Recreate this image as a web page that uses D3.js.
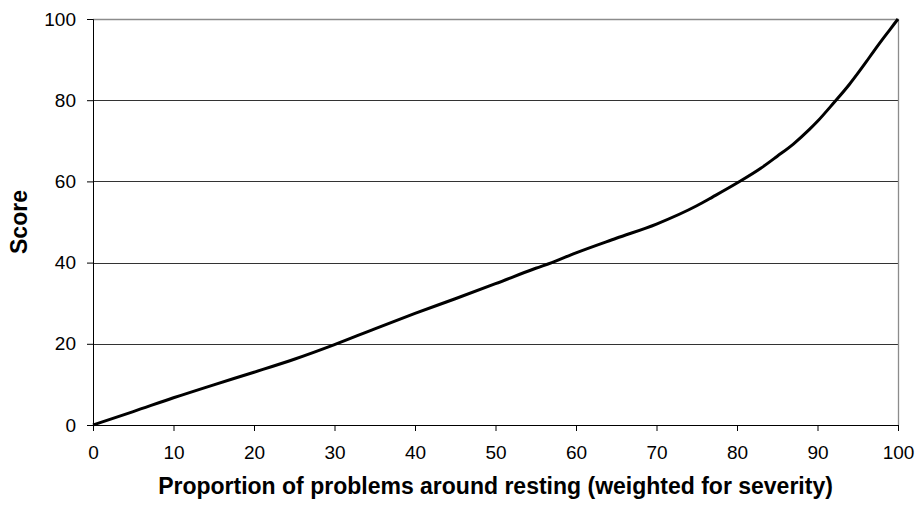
<!DOCTYPE html>
<html>
<head>
<meta charset="utf-8">
<script src="https://cdn.jsdelivr.net/npm/d3@7"></script>
<style>
    body { margin: 0; background: #fff; }
    text { font-family: "Liberation Sans", Arial, sans-serif; }
</style>
</head>
<body>
<svg></svg>
<script>
// values
const proportion = [0, 5, 10, 15, 20, 25, 30, 35, 40, 45, 50, 55, 57, 60, 65, 70, 75, 77, 80, 83, 85, 87, 89, 90, 92, 94, 95, 96, 97, 98, 99, 100];
const score = [0, 3.3, 6.7, 9.9, 13.0, 16.2, 19.8, 23.7, 27.5, 31.1, 34.8, 38.6, 40.0, 42.4, 46.0, 49.5, 54.0, 56.2, 59.6, 63.3, 66.2, 69.2, 72.8, 74.8, 79.3, 84.0, 86.6, 89.3, 92.1, 94.8, 97.4, 100];
const xTicks = [0, 10, 20, 30, 40, 50, 60, 70, 80, 90, 100];
const yTicks = [0, 20, 40, 60, 80, 100];
const xTitle = 'Proportion of problems around resting (weighted for severity)';
const yTitle = 'Score';

const width = 917, height = 507;
const margin = { top: 19, right: 19, bottom: 82, left: 93 };

const svg = d3.select('svg').attr('width', width).attr('height', height);
const g = svg.append('g').attr('transform', `translate(${margin.left},${margin.top})`);
const w = width - margin.left - margin.right;
const h = height - margin.top - margin.bottom;

const x = d3.scaleLinear().domain([0, 100]).range([0, w]);
const y = d3.scaleLinear().domain([0, 100]).range([h, 0]);

// horizontal gridlines
g.selectAll('.grid').data(yTicks.filter(d => d > 0 && d < 100))
    .enter().append('line')
    .attr('x1', 0).attr('x2', w)
    .attr('y1', d => Math.round(y(d)) + 0.5).attr('y2', d => Math.round(y(d)) + 0.5)
    .attr('stroke', '#333').attr('stroke-width', 1);

// plot area border (top + right)
g.append('path')
    .attr('d', `M0,0.5H${w + 0.5}V${h}`)
    .attr('fill', 'none').attr('stroke', '#8c8c8c').attr('stroke-width', 1.3);

const xAxis = g.append('g').attr('transform', `translate(0,${h})`)
    .call(d3.axisBottom(x).tickValues(xTicks).tickSize(6).tickPadding(15));
const yAxis = g.append('g')
    .call(d3.axisLeft(y).tickValues(yTicks).tickSize(6).tickPadding(11));

[xAxis, yAxis].forEach(a => {
    a.select('.domain').attr('stroke', '#000');
    a.selectAll('.tick line').attr('stroke', '#000');
    a.selectAll('text').attr('font-size', 19).attr('fill', '#000')
        .style('font-family', '"Liberation Sans", Arial, sans-serif');
});

const line = d3.line()
    .x((d, i) => x(proportion[i]))
    .y(d => y(d))
    .curve(d3.curveMonotoneX);

g.append('path')
    .datum(score)
    .attr('d', line)
    .attr('fill', 'none')
    .attr('stroke', '#000')
    .attr('stroke-width', 3)
    .attr('stroke-linejoin', 'round');

svg.append('text')
    .attr('x', margin.left + w / 2).attr('y', 494)
    .attr('text-anchor', 'middle')
    .attr('font-size', 23).attr('font-weight', 'bold')
    .text(xTitle);

svg.append('text')
    .attr('transform', `translate(27,${margin.top + h / 2}) rotate(-90)`)
    .attr('text-anchor', 'middle')
    .attr('font-size', 23).attr('font-weight', 'bold')
    .text(yTitle);
</script>
</body>
</html>
